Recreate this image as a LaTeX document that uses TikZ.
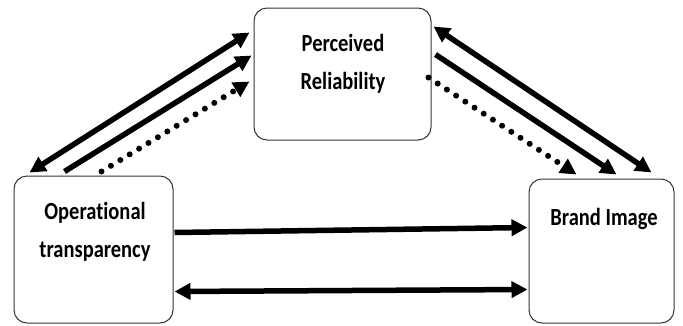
\documentclass[tikz,border=0pt]{standalone}
\usepackage{fontspec}
\setmainfont{Carlito}[Ligatures={TeX,NoCommon}]
\usetikzlibrary{arrows.meta,calc}
\tikzset{
  box/.style={draw=black!80, line width=1pt, rounded corners=13pt, inner sep=0pt},
  lbl/.style={font=\bfseries\fontsize{20.5}{32}\selectfont, align=center, inner sep=0pt, yscale=1.2},
  conn/.style={line width=5.5pt, -{Triangle[length=16pt,width=16pt]}},
  bconn/.style={line width=5.5pt, {Triangle[length=16pt,width=16pt]}-{Triangle[length=16pt,width=16pt]}},
  dconn/.style={line width=6pt, line cap=round, dash pattern=on 0pt off 11pt, -{Triangle[length=16pt,width=16pt,line cap=butt]}},
}
\begin{document}
\begin{tikzpicture}[x=1pt,y=-1pt]
\useasboundingbox (0,0) rectangle (683,325);
\node[box, minimum width=177pt, minimum height=132pt] (pr) at (342.5,74) {};
\node[box, minimum width=159pt, minimum height=147pt] (ot) at (93.5,249.5) {};
\node[box, minimum width=145pt, minimum height=144pt] (bi) at (601.5,251) {};
\node[lbl] (prt) at (343,64) {Perceived\\Reliability};
\node[lbl] (ott) at (95,232) {Operational\\transparency};
\node[lbl] (bit) at (604,219) {Brand Image};
% OT <-> PR
\draw[bconn] ($(ot.north west)+(16,-3)$) -- ($(pr.north west)+(-4,25)$);
\draw[conn] ($(ot.north west)+(51,-4)$) -- ($(pr.north west)+(-2,48)$);
\draw[dconn] ($(ot.north west)+(88,-4)$) -- ($(pr.north west)+(-4,74)$);
% PR <-> BI
\draw[bconn] ($(pr.north east)+(2,19)$) -- ($(bi.north west)+(123,-6)$);
\draw[conn] ($(pr.north east)+(4,47)$) -- ($(bi.north west)+(88,-4)$);
\draw[dconn] ($(pr.north east)+(-3,70)$) -- ($(bi.north west)+(48,-4)$);
% OT <-> BI
\draw[conn] ($(ot.north east)+(1,57)$) -- ($(bi.north west)+(-1,49)$);
\draw[bconn] ($(ot.north east)+(1,116)$) -- ($(bi.north west)+(-1,111)$);
\end{tikzpicture}
\end{document}
